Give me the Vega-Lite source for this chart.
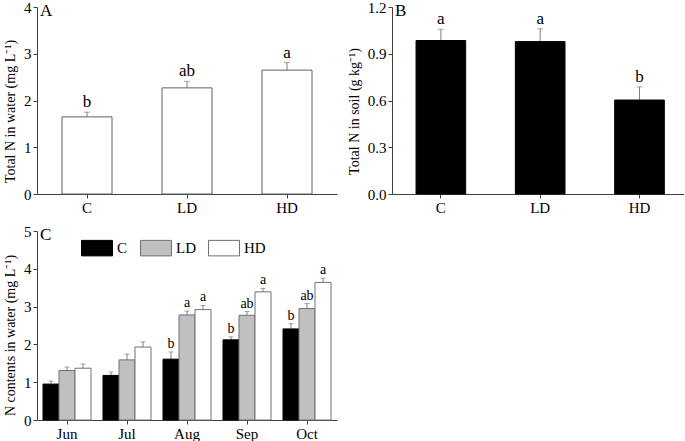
{
  "$schema": "https://vega.github.io/schema/vega-lite/v6.json",
  "padding": {"left": 3, "top": 0, "right": 0, "bottom": 0},
  "background": "white",
  "datasets": {
    "water": [
      {"trt": "C", "mean": 1.65, "top": 1.75, "sig": "b"},
      {"trt": "LD", "mean": 2.27, "top": 2.41, "sig": "ab"},
      {"trt": "HD", "mean": 2.65, "top": 2.81, "sig": "a"}
    ],
    "soil": [
      {"trt": "C", "mean": 0.985, "top": 1.057, "sig": "a"},
      {"trt": "LD", "mean": 0.978, "top": 1.06, "sig": "a"},
      {"trt": "HD", "mean": 0.603, "top": 0.687, "sig": "b"}
    ],
    "monthly": [
      {"month": "Jun", "trt": "C", "mean": 0.95, "top": 1.03, "sig": ""},
      {"month": "Jun", "trt": "LD", "mean": 1.31, "top": 1.40, "sig": ""},
      {"month": "Jun", "trt": "HD", "mean": 1.37, "top": 1.48, "sig": ""},
      {"month": "Jul", "trt": "C", "mean": 1.18, "top": 1.27, "sig": ""},
      {"month": "Jul", "trt": "LD", "mean": 1.59, "top": 1.74, "sig": ""},
      {"month": "Jul", "trt": "HD", "mean": 1.93, "top": 2.07, "sig": ""},
      {"month": "Aug", "trt": "C", "mean": 1.61, "top": 1.80, "sig": "b"},
      {"month": "Aug", "trt": "LD", "mean": 2.78, "top": 2.88, "sig": "a"},
      {"month": "Aug", "trt": "HD", "mean": 2.92, "top": 3.03, "sig": "a"},
      {"month": "Sep", "trt": "C", "mean": 2.12, "top": 2.20, "sig": "b"},
      {"month": "Sep", "trt": "LD", "mean": 2.77, "top": 2.87, "sig": "ab"},
      {"month": "Sep", "trt": "HD", "mean": 3.39, "top": 3.48, "sig": "a"},
      {"month": "Oct", "trt": "C", "mean": 2.41, "top": 2.55, "sig": "b"},
      {"month": "Oct", "trt": "LD", "mean": 2.95, "top": 3.08, "sig": "ab"},
      {"month": "Oct", "trt": "HD", "mean": 3.64, "top": 3.75, "sig": "a"}
    ]
  },
  "config": {
    "font": "Liberation Serif",
    "view": {"stroke": null},
    "axis": {
      "grid": false,
      "domainColor": "#404040",
      "tickColor": "#404040",
      "labelColor": "black",
      "labelFont": "Liberation Serif",
      "labelFontSize": 15,
      "labelOverlap": false,
      "titleFont": "Liberation Serif",
      "titleFontSize": 14,
      "titleFontWeight": "normal",
      "titleColor": "black",
      "tickSize": 4,
      "labelPadding": 2
    },
    "title": {"font": "Liberation Serif", "fontSize": 17, "fontWeight": "normal", "color": "black"},
    "concat": {"spacing": 10}
  },
  "spacing": 9,
  "resolve": {"legend": {"fill": "independent", "stroke": "independent"}},
  "vconcat": [
    {
      "spacing": 10,
      "hconcat": [
        {
          "width": 300,
          "height": 187,
          "data": {"name": "water"},
          "title": {"text": "A", "anchor": "start", "frame": "group", "baseline": "top", "offset": -20, "dx": 3},
          "encoding": {
            "x": {"field": "trt", "type": "nominal", "sort": ["C", "LD", "HD"],
                  "scale": {"paddingInner": 0.5, "paddingOuter": 0.25},
                  "axis": {"title": null, "labelAngle": 0}},
            "y": {"type": "quantitative", "scale": {"domain": [0, 4]},
                  "axis": {"title": "Total N in water (mg L⁻¹)", "values": [0, 1, 2, 3, 4], "titlePadding": 6, "titleY": 104}}
          },
          "layer": [
            {"mark": {"type": "rule", "color": "#808080", "strokeWidth": 1},
             "encoding": {"y": {"field": "mean", "type": "quantitative"}, "y2": {"field": "top"}}},
            {"mark": {"type": "tick", "color": "#808080", "size": 6, "thickness": 1},
             "encoding": {"y": {"field": "top", "type": "quantitative"}}},
            {"mark": {"type": "bar", "fill": "white", "stroke": "#606060", "strokeWidth": 1},
             "encoding": {"y": {"field": "mean", "type": "quantitative"}}},
            {"mark": {"type": "text", "baseline": "bottom", "dy": -1, "fontSize": 17, "color": "black"},
             "encoding": {"y": {"field": "top", "type": "quantitative"}, "text": {"field": "sig"}}}
          ]
        },
        {
          "width": 292,
          "height": 187,
          "data": {"name": "soil"},
          "title": {"text": "B", "anchor": "start", "frame": "group", "baseline": "top", "offset": -20, "dx": 3},
          "encoding": {
            "x": {"field": "trt", "type": "nominal", "sort": ["C", "LD", "HD"],
                  "scale": {"paddingInner": 0.5, "paddingOuter": 0.22, "align": 0.55},
                  "axis": {"title": null, "labelAngle": 0}},
            "y": {"type": "quantitative", "scale": {"domain": [0, 1.2]},
                  "axis": {"title": "Total N in soil (g kg⁻¹)", "values": [0, 0.3, 0.6, 0.9, 1.2], "format": ".1f", "titlePadding": 6, "titleY": 104}}
          },
          "layer": [
            {"mark": {"type": "rule", "color": "#808080", "strokeWidth": 1},
             "encoding": {"y": {"field": "mean", "type": "quantitative"}, "y2": {"field": "top"}}},
            {"mark": {"type": "tick", "color": "#808080", "size": 6, "thickness": 1},
             "encoding": {"y": {"field": "top", "type": "quantitative"}}},
            {"mark": {"type": "bar", "fill": "black", "stroke": "black", "strokeWidth": 1},
             "encoding": {"y": {"field": "mean", "type": "quantitative"}}},
            {"mark": {"type": "text", "baseline": "bottom", "dy": -1, "fontSize": 17, "color": "black"},
             "encoding": {"y": {"field": "top", "type": "quantitative"}, "text": {"field": "sig"}}}
          ]
        }
      ]
    },
    {
      "width": 300,
      "height": 189,
      "data": {"name": "monthly"},
      "title": {"text": "C", "anchor": "start", "frame": "group", "baseline": "top", "offset": -20, "dx": 3},
      "encoding": {
        "x": {"field": "month", "type": "nominal", "sort": ["Jun", "Jul", "Aug", "Sep", "Oct"],
              "scale": {"paddingInner": 0.2, "paddingOuter": 0.1},
              "axis": {"title": null, "labelAngle": 0}},
        "xOffset": {"field": "trt", "type": "nominal", "sort": ["C", "LD", "HD"],
                    "scale": {"paddingInner": 0, "paddingOuter": 0}},
        "y": {"type": "quantitative", "scale": {"domain": [0, 5]},
              "axis": {"title": "N contents in water (mg L⁻¹)", "values": [0, 1, 2, 3, 4, 5], "titlePadding": 6, "titleY": 104}}
      },
      "layer": [
        {"mark": {"type": "rule", "color": "#808080", "strokeWidth": 1},
         "encoding": {"y": {"field": "mean", "type": "quantitative"}, "y2": {"field": "top"}}},
        {"mark": {"type": "tick", "color": "#808080", "size": 5, "thickness": 1},
         "encoding": {"y": {"field": "top", "type": "quantitative"}}},
        {"mark": {"type": "bar", "strokeWidth": 1},
         "encoding": {
           "y": {"field": "mean", "type": "quantitative"},
           "fill": {"field": "trt", "type": "nominal",
                    "scale": {"domain": ["C", "LD", "HD"], "range": ["black", "#c0c0c0", "white"]},
                    "legend": {"orient": "none", "legendX": 44, "legendY": 1, "direction": "horizontal", "title": null,
                               "symbolType": "M-1,-0.5H1V0.5H-1Z", "symbolSize": 961, "labelFontSize": 15,
                               "labelFont": "Liberation Serif", "labelColor": "black", "columnPadding": 10, "labelOffset": 4,
                               "padding": 0, "symbolStrokeWidth": 1}},
           "stroke": {"field": "trt", "type": "nominal",
                      "scale": {"domain": ["C", "LD", "HD"], "range": ["black", "#707070", "#707070"]}}
         }},
        {"mark": {"type": "text", "baseline": "bottom", "dy": -1, "fontSize": 14, "color": "black"},
         "encoding": {"y": {"field": "top", "type": "quantitative"}, "text": {"field": "sig"}}}
      ]
    }
  ]
}
